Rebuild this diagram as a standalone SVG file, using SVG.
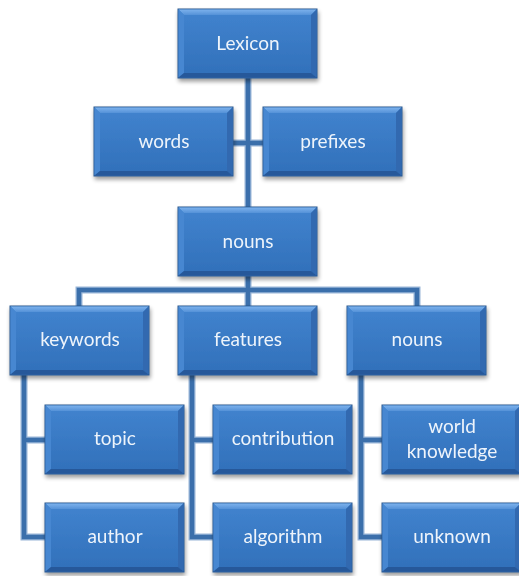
<svg xmlns="http://www.w3.org/2000/svg" xmlns:xlink="http://www.w3.org/1999/xlink" width="519" height="576" viewBox="0 0 519 576">
<style>
.lbl{font-family:Lato,"Open Sans","Liberation Sans",sans-serif;font-size:19px;fill:#eef4fb;text-anchor:middle}
.conO{fill:none;stroke:#9ab6d8;stroke-width:7;stroke-linejoin:miter}
.conI{fill:none;stroke:#3b6fab;stroke-width:4.5;stroke-linejoin:miter}
</style>
<defs>
<linearGradient id="face" x1="0" y1="0" x2="0" y2="1">
<stop offset="0" stop-color="#4082cd"/>
<stop offset="1" stop-color="#3271bb"/>
</linearGradient>
<linearGradient id="topb" x1="0" y1="0" x2="0" y2="1">
<stop offset="0" stop-color="#7cb1ec"/>
<stop offset="1" stop-color="#5592d8"/>
</linearGradient>
<filter id="sh" x="-10%" y="-10%" width="125%" height="130%">
<feGaussianBlur in="SourceAlpha" stdDeviation="2"/>
<feOffset dx="1" dy="3" result="b"/>
<feComponentTransfer><feFuncA type="linear" slope="0.4"/></feComponentTransfer>
<feMerge><feMergeNode/><feMergeNode in="SourceGraphic"/></feMerge>
</filter>
<g id="box">
<rect x="0" y="0" width="139" height="69" fill="url(#face)" stroke="#2a568c" stroke-width="1"/>
<polygon points="0.5,0.5 138.5,0.5 133,6 6,6" fill="url(#topb)"/>
<polygon points="0.5,0.5 6,6 6,64 0.5,68.5" fill="#4787d1"/>
<polygon points="138.5,0.5 133,6 133,64 138.5,68.5" fill="#3069b0"/>
<polygon points="0.5,68.5 6,64 133,64 138.5,68.5" fill="#28599a"/>
<rect x="6" y="6" width="127" height="58" fill="url(#face)"/>
</g>
</defs>
<g id="connectors">
<path class="conO" d="M248,78 V207 M233,143 H263 M248,276 V306 M79,306 V290 H417 V306 M24,375 V537 H45 M24,440 H45 M192,375 V537 H213 M192,440 H213 M361,375 V537 H382 M361,440 H382"/>
<path class="conI" d="M248,78 V207 M233,143 H263 M248,276 V306 M79,306 V290 H417 V306 M24,375 V537 H45 M24,440 H45 M192,375 V537 H213 M192,440 H213 M361,375 V537 H382 M361,440 H382"/>
</g>
<g id="n-lexicon" filter="url(#sh)"><use xlink:href="#box" x="178" y="9"/><text class="lbl" x="248" y="50">Lexicon</text></g>
<g id="n-words" filter="url(#sh)"><use xlink:href="#box" x="94" y="107"/><text class="lbl" x="164" y="148">words</text></g>
<g id="n-prefixes" filter="url(#sh)"><use xlink:href="#box" x="263" y="107"/><text class="lbl" x="333" y="148">prefixes</text></g>
<g id="n-nouns" filter="url(#sh)"><use xlink:href="#box" x="178" y="207"/><text class="lbl" x="248" y="248">nouns</text></g>
<g id="n-keywords" filter="url(#sh)"><use xlink:href="#box" x="10" y="306"/><text class="lbl" x="80" y="346">keywords</text></g>
<g id="n-features" filter="url(#sh)"><use xlink:href="#box" x="178" y="306"/><text class="lbl" x="248" y="346">features</text></g>
<g id="n-nouns2" filter="url(#sh)"><use xlink:href="#box" x="347" y="306"/><text class="lbl" x="417" y="346">nouns</text></g>
<g id="n-topic" filter="url(#sh)"><use xlink:href="#box" x="45" y="405"/><text class="lbl" x="115" y="445">topic</text></g>
<g id="n-author" filter="url(#sh)"><use xlink:href="#box" x="45" y="503"/><text class="lbl" x="115" y="543">author</text></g>
<g id="n-contribution" filter="url(#sh)"><use xlink:href="#box" x="213" y="405"/><text class="lbl" x="283" y="445">contribution</text></g>
<g id="n-algorithm" filter="url(#sh)"><use xlink:href="#box" x="213" y="503"/><text class="lbl" x="283" y="543">algorithm</text></g>
<g id="n-world" filter="url(#sh)"><use xlink:href="#box" x="382" y="405"/><text class="lbl" x="452" y="433">world</text><text class="lbl" x="452" y="458">knowledge</text></g>
<g id="n-unknown" filter="url(#sh)"><use xlink:href="#box" x="382" y="503"/><text class="lbl" x="452" y="543">unknown</text></g>
</svg>
